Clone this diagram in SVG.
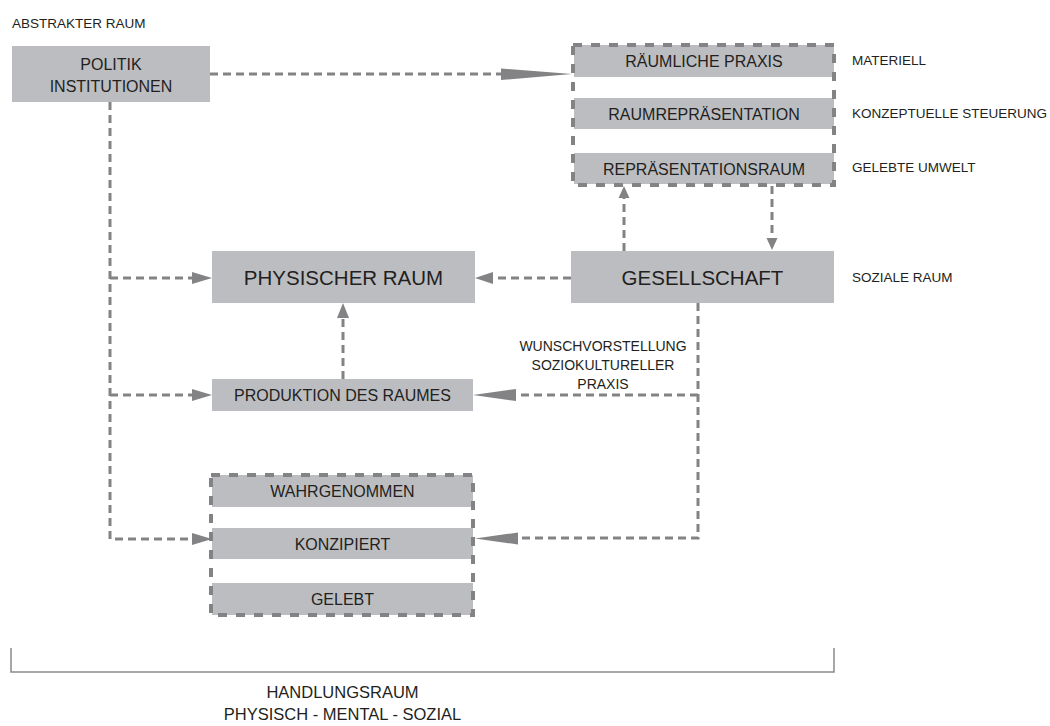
<svg xmlns="http://www.w3.org/2000/svg" width="1050" height="726" viewBox="0 0 1050 726">
<style>
text{font-family:"Liberation Sans",Arial,sans-serif;fill:#231f20}
.box{fill:#bcbdc0}
.lbl{font-size:16px;text-anchor:middle}
.big{font-size:20.5px;text-anchor:middle}
.side{font-size:13.5px}
.grp{fill:none;stroke:#838386;stroke-width:4;stroke-dasharray:9 9}
.con{fill:none;stroke:#838386;stroke-width:3;stroke-dasharray:8 5}
.ah{fill:#838386}
.brk{fill:none;stroke:#8a8a8a;stroke-width:1.5}
</style>
<rect width="1050" height="726" fill="#fff"/>
<text x="12" y="28" class="side">ABSTRAKTER RAUM</text>

<g id="politik">
<rect class="box" x="12" y="46" width="198" height="56"/>
<text class="lbl" x="111" y="70">POLITIK</text>
<text class="lbl" x="111" y="92">INSTITUTIONEN</text>
</g>

<g id="lefebvre-triade">
<rect class="box" x="574" y="45" width="260" height="32"/>
<text class="lbl" x="704" y="67">RÄUMLICHE PRAXIS</text>
<rect class="box" x="574" y="98" width="260" height="31"/>
<text class="lbl" x="704" y="119.5">RAUMREPRÄSENTATION</text>
<rect class="box" x="574" y="153" width="260" height="31"/>
<text class="lbl" x="704" y="174.5">REPRÄSENTATIONSRAUM</text>
<rect class="grp" x="573" y="45" width="261" height="140"/>
</g>
<text class="side" x="852" y="65">MATERIELL</text>
<text class="side" x="852" y="118">KONZEPTUELLE STEUERUNG</text>
<text class="side" x="852" y="172">GELEBTE UMWELT</text>

<g id="physischer-raum">
<rect class="box" x="212" y="251" width="263" height="52"/>
<text class="big" x="343.5" y="285">PHYSISCHER RAUM</text>
</g>

<g id="gesellschaft">
<rect class="box" x="571" y="251" width="263" height="52"/>
<text class="big" x="702.5" y="285">GESELLSCHAFT</text>
</g>
<text class="side" x="852" y="282">SOZIALE RAUM</text>

<g id="produktion">
<rect class="box" x="212" y="379" width="261" height="32"/>
<text class="lbl" x="342.5" y="401">PRODUKTION DES RAUMES</text>
</g>

<text class="side" x="603" y="351" text-anchor="middle" style="font-size:14px">WUNSCHVORSTELLUNG</text>
<text class="side" x="603" y="370" text-anchor="middle" style="font-size:14px">SOZIOKULTURELLER</text>
<text class="side" x="603" y="389" text-anchor="middle" style="font-size:14px">PRAXIS</text>

<g id="wahrnehmung-triade">
<rect class="box" x="212" y="475" width="261" height="32"/>
<text class="lbl" x="342.5" y="497">WAHRGENOMMEN</text>
<rect class="box" x="212" y="528" width="261" height="31"/>
<text class="lbl" x="342.5" y="549.5">KONZIPIERT</text>
<rect class="box" x="212" y="583" width="261" height="32"/>
<text class="lbl" x="342.5" y="605">GELEBT</text>
<rect class="grp" x="211" y="475" width="262" height="140"/>
</g>

<g id="connectors">
<path class="con" d="M210 74H501"/>
<polygon class="ah" points="501,68.5 572,74 501,80"/>
<path class="con" d="M110 102V539H192M110 278H192M110 395H192"/>
<polygon class="ah" points="192,272 212,278 192,284"/>
<polygon class="ah" points="192,389 212,395 192,401"/>
<polygon class="ah" points="192,533 212,539 192,545"/>
<path class="con" d="M571 278H493"/>
<polygon class="ah" points="493,272 475,278 493,284"/>
<path class="con" d="M343 379V318"/>
<polygon class="ah" points="337,318 343,303 349,318"/>
<path class="con" d="M624 251V198"/>
<polygon class="ah" points="618.5,198 624,186 629.5,198"/>
<path class="con" d="M772 186V238"/>
<polygon class="ah" points="766.5,238 772,250 777.5,238"/>
<path class="con" d="M698 303V538H518M698 395H516"/>
<polygon class="ah" points="516,389 473,395 516,401"/>
<polygon class="ah" points="518,532.5 475,538.5 518,544.5"/>
</g>

<g id="handlungsraum">
<path class="brk" d="M11 648V672H834V648"/>
<text x="342.5" y="698" text-anchor="middle" style="font-size:16.5px">HANDLUNGSRAUM</text>
<text x="342.5" y="720" text-anchor="middle" style="font-size:16.5px">PHYSISCH - MENTAL - SOZIAL</text>
</g>
</svg>
